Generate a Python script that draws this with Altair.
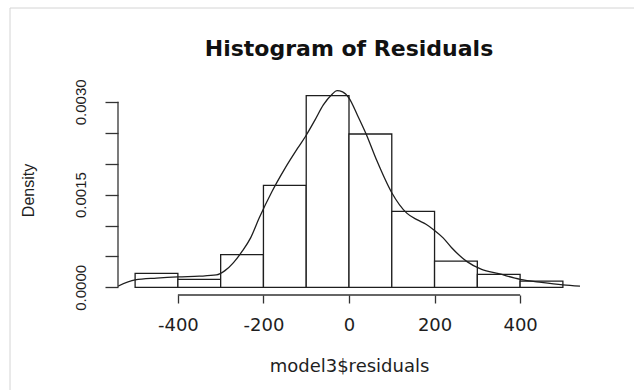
import altair as alt
import pandas as pd

# Histogram of residuals (density scale), breaks every 100
bin_starts = [-500, -400, -300, -200, -100, 0, 100, 200, 300, 400]
bin_width = 100
densities = [0.000225, 0.00013, 0.00053, 0.00165, 0.00310,
             0.00248, 0.00123, 0.000425, 0.00021, 0.00010]

# Kernel density estimate drawn over the bars
kde_x = [-540, -500, -450, -400, -350, -310, -290, -270, -250, -230,
         -210, -180, -150, -120, -100, -80, -60, -40, -28, -15,
         0, 20, 40, 65, 100, 135, 160, 180, 200, 220,
         240, 275, 310, 350, 400, 450, 500, 540]
kde_y = [0.00002, 0.00012, 0.00015, 0.00017, 0.00018, 0.00020, 0.00027, 0.00040, 0.00058, 0.00080,
         0.00112, 0.00155, 0.00192, 0.00225, 0.00246, 0.00270, 0.00295, 0.00312, 0.00318, 0.00316,
         0.00306, 0.00278, 0.00248, 0.00205, 0.00153, 0.00120, 0.00109, 0.00102, 0.00092, 0.00080,
         0.00064, 0.00042, 0.00029, 0.00022, 0.00013, 0.00008, 0.00004, 0.00002]

x_ticks = [-400, -200, 0, 200, 400]
y_ticks = [0, 0.0005, 0.001, 0.0015, 0.002, 0.0025, 0.003]
y_labelled = [0, 0.0015, 0.003]

# R-style limits: range of the breaks / densities widened by 4 %
x_lo, x_hi = bin_starts[0], bin_starts[-1] + bin_width
x_pad = 0.04 * (x_hi - x_lo)
x_lim = [x_lo - x_pad, x_hi + x_pad]
y_pad = 0.04 * max(densities)
y_lim = [-y_pad, max(densities) + y_pad]

W, H = 462, 207
PAD = {"left": 118, "top": 88, "right": 634 - 118 - W, "bottom": 390 - 88 - H}

ink = "#1e1e1e"
xs = alt.Scale(domain=x_lim, nice=False, zero=False)
ys = alt.Scale(domain=y_lim, nice=False, zero=False)

bars = pd.DataFrame({
    "start": bin_starts,
    "end": [b + bin_width for b in bin_starts],
    "density": densities,
})
kde = pd.DataFrame({"x": kde_x, "y": kde_y})

x_axis = alt.Axis(
    values=x_ticks, labelExpr="'' + datum.value", grid=False, domain=False,
    tickSize=8, tickColor="#333", tickWidth=1.3,
    labelFont="DejaVu Sans", labelFontSize=18, labelColor=ink,
    labelPadding=13, labelBaseline="top", labelFlush=False, labelOverlap=False,
    title="model3$residuals", titleFont="DejaVu Sans", titleFontSize=18,
    titleFontWeight="normal", titleColor=ink, titleX=W / 2, titleY=76,
    titleBaseline="alphabetic", titleAlign="center",
)
y_labels = "[" + ", ".join(str(v) for v in y_labelled) + "]"
y_axis = alt.Axis(
    values=y_ticks,
    labelExpr=f"indexof({y_labels}, datum.value) >= 0 ? format(datum.value, '.4f') : ''",
    grid=False, domain=False,
    tickSize=13, tickColor="#333", tickWidth=1.3,
    labelFont="Liberation Sans", labelFontSize=15, labelColor=ink,
    labelAngle=270, labelAlign="center", labelBaseline="bottom", labelPadding=17,
    labelFlush=False, labelOverlap=False,
    title="Density", titleFont="Liberation Sans", titleFontSize=16,
    titleFontWeight="normal", titleColor=ink, titleAngle=270,
    titleX=-85, titleY=102, titleAlign="center", titleBaseline="alphabetic",
)

hist = alt.Chart(bars).mark_rect(fill="white", stroke=ink, strokeWidth=1.3).encode(
    x=alt.X("start:Q", scale=xs, axis=x_axis),
    x2="end:Q",
    y=alt.Y("density:Q", scale=ys, axis=y_axis),
    y2=alt.datum(0),
)

curve = alt.Chart(kde).mark_line(color=ink, strokeWidth=1.3, interpolate="monotone", clip=True).encode(
    x=alt.X("x:Q", scale=xs, axis=x_axis),
    y=alt.Y("y:Q", scale=ys, axis=y_axis),
)

# axis lines spanning only the first to last tick
x_line = alt.Chart(pd.DataFrame({"a": [x_ticks[0]], "b": [x_ticks[-1]], "y": [y_lim[0]]})).mark_rule(
    color="#333", strokeWidth=1.3
).encode(
    x=alt.X("a:Q", scale=xs, axis=x_axis), x2="b:Q",
    y=alt.Y("y:Q", scale=ys, axis=y_axis),
)
y_line = alt.Chart(pd.DataFrame({"x": [x_lim[0]], "a": [y_ticks[0]], "b": [y_ticks[-1]]})).mark_rule(
    color="#333", strokeWidth=1.3
).encode(
    x=alt.X("x:Q", scale=xs, axis=x_axis),
    y=alt.Y("a:Q", scale=ys, axis=y_axis), y2="b:Q",
)

# thin window frame along the top and left edges
frame_top = alt.Chart(pd.DataFrame({"k": [0]})).mark_rule(color="#d4d4d4", strokeWidth=1).encode(
    x=alt.value(10 - PAD["left"]), x2=alt.value(634 - PAD["left"]), y=alt.value(8 - PAD["top"]),
)
frame_left = alt.Chart(pd.DataFrame({"k": [0]})).mark_rule(color="#d4d4d4", strokeWidth=1).encode(
    x=alt.value(10 - PAD["left"]), y=alt.value(8 - PAD["top"]), y2=alt.value(390 - PAD["top"]),
)

# the frame raises the group bounds above the plot, so the title offset is negative
chart = alt.layer(hist, curve, x_line, y_line, frame_top, frame_left).properties(
    width=W, height=H,
    title=alt.TitleParams(
        "Histogram of Residuals", anchor="middle", frame="group",
        font="DejaVu Sans", fontSize=22, fontWeight="bold", color="#111",
        baseline="alphabetic", offset=-70,
    ),
    autosize=alt.AutoSizeParams(type="none"),
    padding=PAD,
    background="white",
).configure_view(stroke=None)

chart.save("out.html", embed_options={"renderer": "svg", "actions": False})
